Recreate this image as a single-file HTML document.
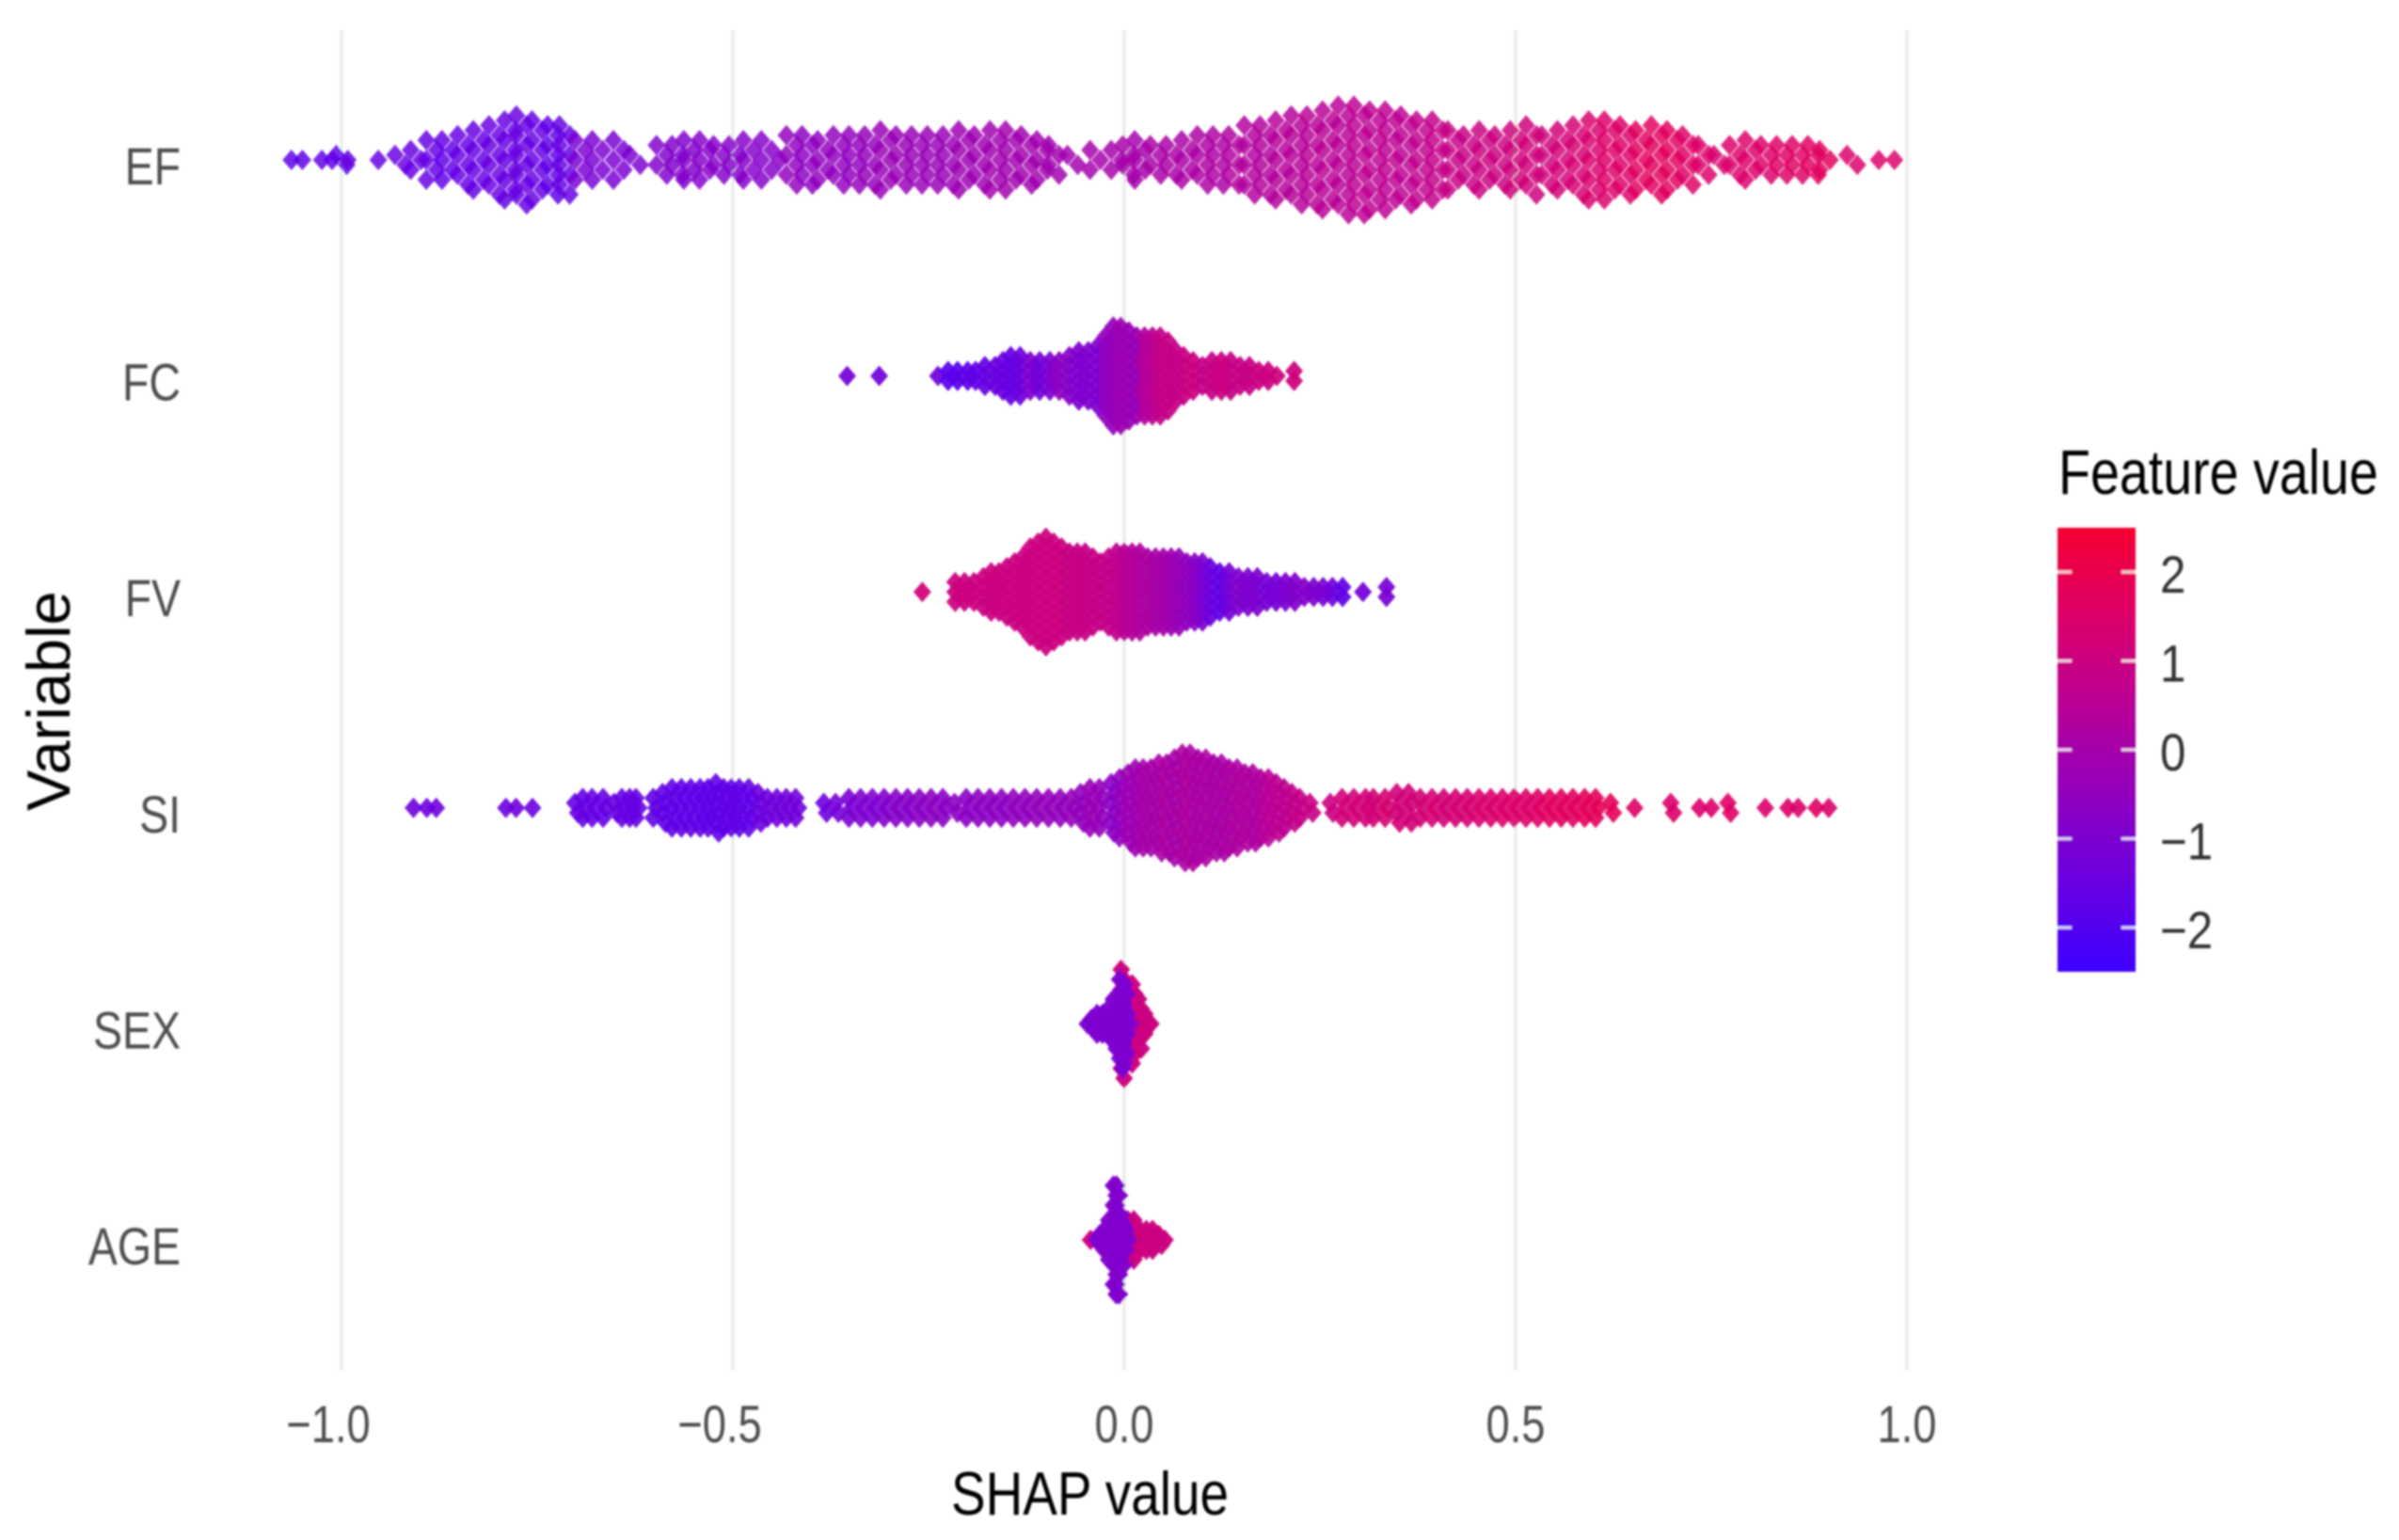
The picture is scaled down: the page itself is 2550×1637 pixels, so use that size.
<!DOCTYPE html>
<html lang="en">
<head>
<meta charset="utf-8">
<title>SHAP summary beeswarm</title>
<style>
  html, body { margin: 0; padding: 0; background: #ffffff; }
  svg { display: block; }
  text { font-family: "Liberation Sans", Arial, sans-serif; }
</style>
</head>
<body>
<svg id="chart" xmlns="http://www.w3.org/2000/svg" width="2550" height="1637" viewBox="0 0 2550 1637">
  <defs>
    <filter id="soft" x="-2%" y="-2%" width="104%" height="104%"><feGaussianBlur stdDeviation="1"/></filter>
    <linearGradient id="legend-gradient" x1="0" y1="1" x2="0" y2="0"></linearGradient>
  </defs>
  <rect x="0" y="0" width="2550" height="1637" fill="#ffffff"/>
  <g id="root" filter="url(#soft)">
    <g id="grid"></g>
    <g id="points"></g>
    <g id="yaxis"></g>
    <g id="xaxis"></g>
    <text transform="translate(1011,1610) scale(0.845,1)" font-size="65" fill="#000000">SHAP value</text>
    <text transform="translate(74,862) rotate(-90)" font-size="65" fill="#000000">Variable</text>
    <g id="legend">
      <text transform="translate(2188,525) scale(0.83,1)" font-size="67" fill="#000000">Feature value</text>
      <rect x="2187" y="561" width="83" height="472" fill="url(#legend-gradient)"/>
    </g>
  </g>
</svg>
<script>
// ---- axis ticks and labels ----
const xTickValues = [-1.0, -0.5, 0.0, 0.5, 1.0];
const xTickLabels = ["\u22121.0", "\u22120.5", "0.0", "0.5", "1.0"];
const rowLabels = ["EF", "FC", "FV", "SI", "SEX", "AGE"];
const legendTickValues = [2, 1, 0, -1, -2];
const legendTickLabels = ["2", "1", "0", "\u22121", "\u22122"];

// ---- EF: SHAP value, number of points at that value, mean feature value ----
const efShap = [
  -1.064,-1.05,-1.025,-1.012,-1.0,-0.992,-0.953,-0.925,-0.905,-0.885,
  -0.865,-0.845,-0.825,-0.805,-0.785,-0.77,-0.75,-0.73,-0.715,-0.695,
  -0.673,-0.646,-0.625,-0.591,-0.571,-0.556,-0.536,-0.518,-0.498,-0.48,
  -0.457,-0.44,-0.425,-0.405,-0.385,-0.365,-0.345,-0.325,-0.305,-0.285,
  -0.265,-0.245,-0.225,-0.205,-0.185,-0.165,-0.145,-0.125,-0.105,-0.09,
  -0.066,-0.037,-0.01,0.005,0.02,0.04,0.06,0.08,0.10,0.12,
  0.14,0.16,0.18,0.20,0.22,0.24,0.26,0.28,0.30,0.32,
  0.34,0.36,0.38,0.40,0.42,0.44,0.46,0.48,0.50,0.52,
  0.54,0.56,0.58,0.60,0.62,0.64,0.66,0.68,0.70,0.72,
  0.74,0.76,0.78,0.80,0.82,0.84,0.86,0.88,0.895,0.93,
  0.964,0.984];
const efCount = [
  1,1,1,1,2,1,1,2,3,5,
  5,6,7,8,9,10,9,8,8,5,
  5,5,2,4,4,5,5,4,4,5,
  5,1,6,6,5,6,6,6,7,6,
  6,6,6,7,6,7,7,6,5,4,
  2,3,3,4,5,4,4,5,6,6,
  6,8,8,9,10,10,11,12,12,11,
  11,10,9,9,7,6,7,6,7,8,
  6,7,8,9,9,8,7,8,7,6,
  4,2,4,5,4,4,4,4,3,2,
  1,1];
const efFeature = [
  -1.8,-1.8,-1.7,-1.7,-1.7,-1.6,-1.6,-1.5,-1.6,-1.6,
  -1.7,-1.6,-1.6,-1.5,-1.6,-1.5,-1.6,-1.7,-1.6,-1.1,
  -1.1,-1.1,-1.0,-0.9,-0.9,-0.9,-0.8,-0.8,-0.8,-0.8,
  -0.8,-0.7,-0.5,-0.6,-0.5,-0.5,-0.5,-0.4,-0.3,-0.3,
  -0.3,-0.3,-0.3,-0.2,-0.2,-0.1,-0.1,-0.1,-0.1,-0.1,
  -0.1,0,0,0,0,0.1,0.1,0.1,0.2,0.2,
  0.3,0.3,0.3,0.4,0.4,0.5,0.5,0.5,0.6,0.6,
  0.6,0.6,0.7,0.8,0.9,0.9,1.0,1.0,1.1,1.1,
  1.1,1.2,1.3,1.4,1.5,1.5,1.7,1.7,1.7,1.6,
  1.5,1.4,1.5,1.5,1.5,1.6,1.6,1.7,1.7,1.5,
  1.5,1.5];

// ---- FC ----
const fcShap = [
  -0.354,-0.313,-0.238,-0.225,-0.213,-0.2,-0.19,-0.178,-0.165,-0.155,
  -0.145,-0.133,-0.12,-0.108,-0.095,-0.083,-0.07,-0.058,-0.046,-0.034,
  -0.024,-0.014,-0.004,0.006,0.016,0.026,0.036,0.046,0.056,0.066,
  0.076,0.088,0.1,0.112,0.124,0.136,0.148,0.16,0.172,0.184,
  0.195,0.217];
const fcCount = [
  1,1,1,2,2,2,2,3,3,4,
  5,5,4,4,4,4,5,6,6,7,
  9,11,11,10,9,9,9,9,8,6,
  5,4,3,4,4,4,3,3,2,2,
  1,2];
const fcFeature = [
  -1.2,-1.3,-1.3,-1.9,-1.9,-1.7,-1.7,-1.6,-1.5,-1.5,
  -1.6,-1.4,-1.0,-1.3,-1.0,-0.6,-0.8,-1.0,-0.9,-1.0,
  -0.5,-0.4,-0.2,-0.3,-0.3,0.3,0.5,0.8,0.9,0.8,
  0.9,1.0,0.8,0.9,1.0,0.9,0.9,0.9,1.0,1.0,
  1.1,1.1];

// ---- FV ----
const fvShap = [
  -0.258,-0.216,-0.204,-0.192,-0.18,-0.17,-0.16,-0.15,-0.14,-0.13,
  -0.12,-0.11,-0.10,-0.09,-0.08,-0.07,-0.06,-0.05,-0.04,-0.03,
  -0.02,-0.01,0.0,0.01,0.02,0.03,0.04,0.05,0.06,0.07,
  0.08,0.09,0.10,0.11,0.122,0.134,0.146,0.158,0.17,0.182,
  0.194,0.206,0.218,0.23,0.242,0.254,0.266,0.279,0.305,0.335];
const fvCount = [
  1,3,3,3,4,5,5,6,7,8,
  10,11,12,11,10,9,9,9,8,7,
  8,9,9,9,9,8,8,8,8,8,
  7,7,7,6,5,5,4,4,4,3,
  3,3,3,2,2,2,2,2,1,2];
const fvFeature = [
  1.2,1.0,1.0,1.0,1.0,1.0,1.0,1.0,1.0,1.0,
  1.0,1.0,1.0,1.0,1.0,0.9,0.9,0.9,0.9,0.8,
  0.8,0.7,0.5,0.4,0.3,0.2,0.1,0,-0.1,-0.3,
  -0.5,-0.7,-1.0,-1.4,-1.7,-1.2,-0.9,-1.0,-1.0,-1.2,
  -1.2,-1.0,-0.9,-0.8,-1.0,-1.1,-1.3,-1.7,-1.2,-1.1];

// ---- SI ----
const siShap = [
  -0.908,-0.891,-0.879,-0.79,-0.777,-0.756,-0.70,-0.69,-0.678,-0.664,
  -0.65,-0.64,-0.63,-0.622,-0.6,-0.588,-0.576,-0.564,-0.552,-0.54,
  -0.53,-0.52,-0.51,-0.5,-0.49,-0.478,-0.466,-0.454,-0.442,-0.43,
  -0.418,-0.382,-0.367,-0.35,-0.335,-0.32,-0.305,-0.29,-0.275,-0.26,
  -0.245,-0.23,-0.215,-0.2,-0.185,-0.17,-0.155,-0.14,-0.125,-0.11,
  -0.095,-0.08,-0.066,-0.054,-0.042,-0.03,-0.015,-0.004,0.006,0.016,
  0.026,0.036,0.046,0.056,0.066,0.076,0.086,0.096,0.106,0.116,
  0.126,0.136,0.146,0.156,0.166,0.176,0.186,0.196,0.206,0.216,
  0.226,0.239,0.265,0.28,0.295,0.31,0.32,0.335,0.35,0.365,
  0.38,0.395,0.41,0.425,0.44,0.455,0.47,0.485,0.5,0.515,
  0.53,0.545,0.56,0.575,0.59,0.604,0.623,0.652,0.70,0.735,
  0.75,0.773,0.819,0.848,0.861,0.884,0.90];
const siCount = [
  1,1,1,1,1,1,2,3,3,3,
  2,3,3,3,3,4,5,5,5,5,
  5,6,5,5,5,5,4,3,3,3,
  3,2,2,3,3,3,3,3,3,3,
  3,3,2,3,3,3,3,3,3,3,
  3,3,3,4,5,5,6,7,8,9,
  9,9,10,10,11,12,12,11,11,10,
  10,9,9,8,8,7,7,6,5,4,
  3,2,2,3,3,3,3,3,4,4,
  3,3,3,3,3,3,3,3,3,3,
  3,3,3,3,3,3,2,1,2,1,
  1,2,1,1,1,1,1];
const siFeature = [
  -1.4,-1.4,-1.4,-1.4,-1.4,-1.5,-1.6,-1.6,-1.6,-1.6,
  -1.5,-1.6,-1.6,-1.6,-1.7,-1.7,-1.7,-1.7,-1.7,-1.7,
  -1.7,-1.7,-1.7,-1.7,-1.7,-1.7,-1.5,-1.4,-1.3,-1.3,
  -1.3,-1.4,-1.2,-1.1,-1.0,-1.0,-0.9,-0.8,-0.8,-0.7,
  -0.6,-0.7,-0.6,-0.7,-0.6,-0.6,-0.6,-0.5,-0.5,-0.4,
  -0.4,-0.5,-0.4,-0.5,-0.3,-0.4,-0.7,-0.5,-0.2,-0.2,
  0,0,0.1,0.2,0,0.2,0.2,0.1,0.2,0.1,
  0.1,0.2,0.2,0.3,0.2,0.3,0.5,0.6,0.6,0.7,
  0.8,0.9,1.0,1.2,1.2,1.2,1.2,1.3,1.2,1.2,
  1.2,1.3,1.2,1.3,1.3,1.4,1.4,1.5,1.5,1.5,
  1.6,1.7,1.7,1.7,1.8,1.8,1.8,1.6,1.5,1.5,
  1.5,1.6,1.5,1.6,1.5,1.6,1.5];

// ---- SEX ----
const sexShap = [-0.002,0.012,0.02,0.028,0.034,-0.047,-0.04,-0.033,-0.026,-0.019,-0.012,-0.004,0.002,0.006];
const sexCount = [12,9,6,3,1,1,2,3,3,4,6,10,9,3];
const sexFeature = [1.0,1.0,1.0,1.0,1.0,-1.0,-1.0,-1.0,-1.0,-1.0,-1.0,-1.0,-1.0,-1.0];

// ---- AGE ----
const ageShap = [-0.043,0.006,0.014,0.022,0.03,0.038,0.046,0.052,-0.036,-0.03,-0.024,-0.018,-0.012,-0.008,-0.002,0.004];
const ageCount = [1,5,5,3,3,3,2,1,1,2,3,5,12,12,6,3];
const ageFeature = [1.2,1.0,1.0,1.0,1.0,1.0,1.0,1.0,-0.9,-0.9,-0.9,-0.9,-0.9,-0.9,-0.9,-0.9];

// ---- colour scale stops (feature value to rgb) ----
const colorDomain = [-2.5, -1.5, -0.5, 0.5, 1.5, 2.5];
const colorRed = [62, 105, 145, 185, 220, 245];
const colorGreen = [0, 0, 0, 0, 0, 0];
const colorBlue = [255, 225, 190, 150, 105, 50];

const rows = [
  { shap: efShap, count: efCount, feature: efFeature, stagger: 5.5, opacity: 0.84 },
  { shap: fcShap, count: fcCount, feature: fcFeature, stagger: 0, opacity: 0.93 },
  { shap: fvShap, count: fvCount, feature: fvFeature, stagger: 0, opacity: 0.93 },
  { shap: siShap, count: siCount, feature: siFeature, stagger: 1.5, opacity: 0.9 },
  { shap: sexShap, count: sexCount, feature: sexFeature, stagger: 1.5, opacity: 0.97 },
  { shap: ageShap, count: ageCount, feature: ageFeature, stagger: 1.5, opacity: 0.97 }
];

const NS = "http://www.w3.org/2000/svg";
function xScale(v) { return 1195 + v * 832; }
function rowScale(i) { return 170 + i * 229.6; }
function legendScale(v) { return 797 - v * 94.5; }
function featureColor(v) {
  let k = 0;
  while (k < colorDomain.length - 2 && v > colorDomain[k + 1]) k++;
  const t = Math.max(0, Math.min(1, (v - colorDomain[k]) / (colorDomain[k + 1] - colorDomain[k])));
  const r = Math.round(colorRed[k] + (colorRed[k + 1] - colorRed[k]) * t);
  const g = Math.round(colorGreen[k] + (colorGreen[k + 1] - colorGreen[k]) * t);
  const b = Math.round(colorBlue[k] + (colorBlue[k + 1] - colorBlue[k]) * t);
  return "rgb(" + r + "," + g + "," + b + ")";
}

// gradient for colourbar
const gradient = document.getElementById("legend-gradient");
colorDomain.forEach(function (v, i) {
  const stop = document.createElementNS(NS, "stop");
  stop.setAttribute("offset", ((v - colorDomain[0]) / (colorDomain[colorDomain.length - 1] - colorDomain[0])).toString());
  stop.setAttribute("stop-color", featureColor(v));
  gradient.appendChild(stop);
});

// gridlines and x labels
const gridGroup = document.getElementById("grid");
const xAxisGroup = document.getElementById("xaxis");
xTickValues.forEach(function (v, i) {
  const line = document.createElementNS(NS, "line");
  
  
  line.setAttribute("x1", xScale(v));
  line.setAttribute("x2", xScale(v));
  line.setAttribute("y1", 32);
  line.setAttribute("y2", 1457);
  line.setAttribute("stroke", "#ebebeb");
  line.setAttribute("stroke-width", 3.5);
  gridGroup.appendChild(line);

  const label = document.createElementNS(NS, "text");
  
  
  label.setAttribute("transform", "translate(" + (xScale(v) + (v < 0 ? -14 : 0)) + ",1533) scale(0.81,1)");
  label.setAttribute("text-anchor", "middle");
  label.setAttribute("font-size", 56);
  label.setAttribute("fill", "#4d4d4d");
  label.textContent = xTickLabels[i];
  xAxisGroup.appendChild(label);
});

// y labels
const yAxisGroup = document.getElementById("yaxis");
rowLabels.forEach(function (name, i) {
  const label = document.createElementNS(NS, "text");
  
  
  label.setAttribute("transform", "translate(192," + (rowScale(i) + 26) + ") scale(0.83,1)");
  label.setAttribute("text-anchor", "end");
  label.setAttribute("font-size", 56);
  label.setAttribute("fill", "#4d4d4d");
  label.textContent = name;
  yAxisGroup.appendChild(label);
});

// swarm marks: each value stacks its points symmetrically around the row line
const pointsGroup = document.getElementById("points");
const spacing = 10.5;
const halfW = 9.5;
const halfH = 11;
rows.forEach(function (row, r) {
  row.shap.forEach(function (v, i) {
    const n = row.count[i];
    for (let k = 0; k < n; k++) {
      const level = k - (n - 1) / 2;
      const cx = xScale(v) + (n > 1 ? (k % 2 === 0 ? -row.stagger : row.stagger) : 0);
      const cy = rowScale(r) + level * spacing;
      const mark = document.createElementNS(NS, "path");
      
      
      mark.setAttribute("d", "M" + cx + " " + (cy - halfH) + "L" + (cx + halfW) + " " + cy + "L" + cx + " " + (cy + halfH) + "L" + (cx - halfW) + " " + cy + "Z");
      mark.setAttribute("fill", featureColor(row.feature[i]));
      mark.setAttribute("fill-opacity", row.opacity);
      pointsGroup.appendChild(mark);
    }
  });
});

// legend ticks and labels
const legendGroup = document.getElementById("legend");
legendTickValues.forEach(function (v, i) {
  const left = document.createElementNS(NS, "rect");
  
  
  left.setAttribute("x", 2187);
  left.setAttribute("y", legendScale(v) - 1.5);
  left.setAttribute("width", 15);
  left.setAttribute("height", 3);
  left.setAttribute("fill", "#ffffff");
  left.setAttribute("fill-opacity", 0.8);
  legendGroup.appendChild(left);

  const right = document.createElementNS(NS, "rect");
  
  
  right.setAttribute("x", 2255);
  right.setAttribute("y", legendScale(v) - 1.5);
  right.setAttribute("width", 15);
  right.setAttribute("height", 3);
  right.setAttribute("fill", "#ffffff");
  right.setAttribute("fill-opacity", 0.8);
  legendGroup.appendChild(right);

  const label = document.createElementNS(NS, "text");
  
  
  label.setAttribute("transform", "translate(2296," + (legendScale(v) + 22) + ") scale(0.88,1)");
  label.setAttribute("font-size", 56);
  label.setAttribute("fill", "#333333");
  label.textContent = legendTickLabels[i];
  legendGroup.appendChild(label);
});
</script>
</body>
</html>
